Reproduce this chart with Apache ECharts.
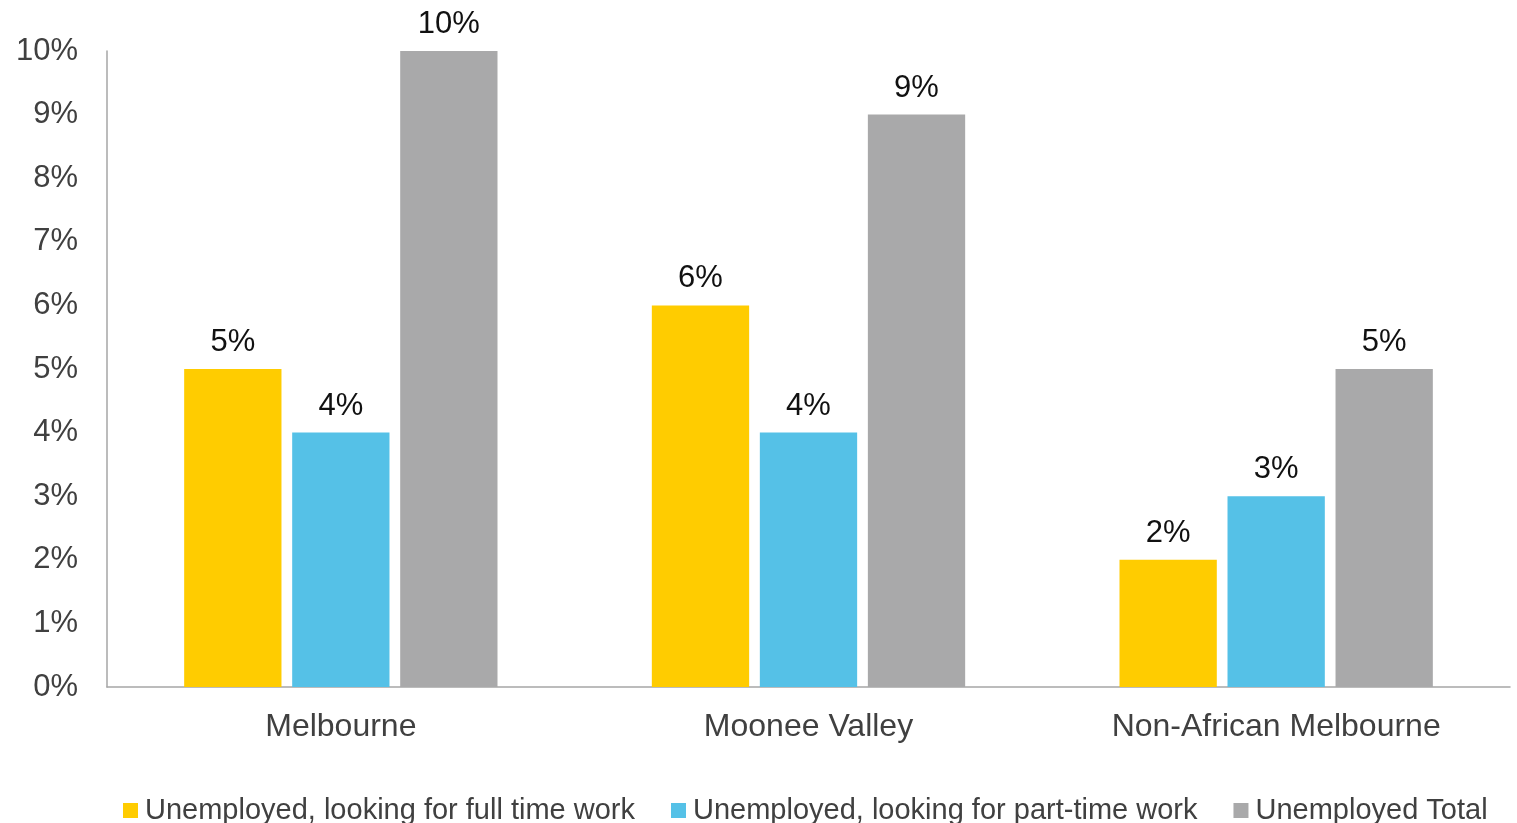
<!DOCTYPE html>
<html>
<head>
<meta charset="utf-8">
<script src="https://cdn.jsdelivr.net/npm/echarts@6/dist/echarts.min.js"></script>
<style>
  html, body { margin: 0; padding: 0; background: #fff; }
  #chart { width: 1517px; height: 823px; }
</style>
</head>
<body>
<div id="chart"></div>
<script>
// Unemployment rates by area (percent)
const categories = ['Melbourne', 'Moonee Valley', 'Non-African Melbourne'];
const fullTimeSeeking = [5, 6, 2];
const partTimeSeeking = [4, 4, 3];
const unemployedTotal = [10, 9, 5];
const seriesNames = [
  'Unemployed, looking for full time work',
  'Unemployed, looking for part-time work',
  'Unemployed Total'
];
const seriesColors = ['#FFCC00', '#55C1E7', '#A9A9AA'];

const font = 'Liberation Sans, Arial, sans-serif';

function barSeries(name, data, color) {
  return {
    name: name,
    type: 'bar',
    data: data,
    barGap: '11%',
    barCategoryGap: '33%',
    itemStyle: { color: color },
    label: {
      show: true,
      position: 'top',
      distance: 11,
      formatter: '{c}%',
      color: '#111111',
      fontFamily: font,
      fontSize: 31
    }
  };
}

const chart = echarts.init(document.getElementById('chart'));
chart.setOption({
  animation: false,
  grid: { left: 107, right: 7, top: 51, bottom: 136 },
  legend: {
    left: 118,
    top: 791,
    width: 1399,
    itemWidth: 15,
    itemHeight: 15,
    itemGap: 36,
    icon: 'rect',
    textStyle: { color: '#404040', fontFamily: font, fontSize: 29, padding: [0, 0, 0, 2] },
    data: seriesNames
  },
  xAxis: {
    type: 'category',
    data: categories,
    axisLine: { lineStyle: { color: '#A6A6A6', width: 1.5 } },
    axisTick: { show: false },
    axisLabel: { color: '#404040', fontFamily: font, fontSize: 32, margin: 24 }
  },
  yAxis: {
    type: 'value',
    min: 0,
    max: 10,
    interval: 1,
    axisLine: { show: true, lineStyle: { color: '#A6A6A6', width: 1.5 } },
    axisTick: { show: false },
    splitLine: { show: false },
    axisLabel: {
      color: '#404040', fontFamily: font, fontSize: 31, margin: 29,
      formatter: '{value}%'
    }
  },
  series: [
    barSeries(seriesNames[0], fullTimeSeeking, seriesColors[0]),
    barSeries(seriesNames[1], partTimeSeeking, seriesColors[1]),
    barSeries(seriesNames[2], unemployedTotal, seriesColors[2])
  ]
});
</script>
</body>
</html>
